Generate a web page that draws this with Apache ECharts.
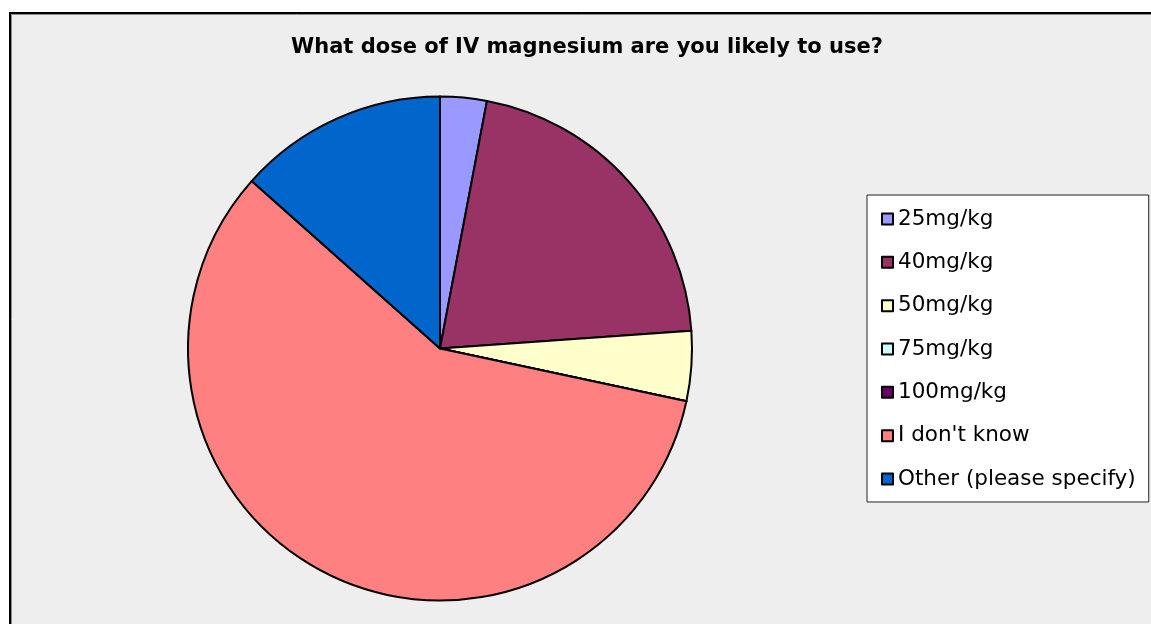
<!DOCTYPE html>
<html>
<head>
<meta charset="utf-8">
<script src="https://cdn.jsdelivr.net/npm/echarts@6/dist/echarts.min.js"></script>
<style>
html,body{margin:0;padding:0;background:#ffffff;}
#chart{width:1151px;height:624px;}
</style>
</head>
<body>
<div id="chart"></div>
<script>
var titleText = 'What dose of IV magnesium are you likely to use?';
var categories = ['25mg/kg', '40mg/kg', '50mg/kg', '75mg/kg', '100mg/kg', "I don't know", 'Other (please specify)'];
var counts = [2, 14, 3, 0, 0, 39, 9];
var colors = ['#9999FF', '#993366', '#FFFFCC', '#CCFFFF', '#660066', '#FF8080', '#0066CC'];

var chart = echarts.init(document.getElementById('chart'), null, {renderer: 'canvas'});
var data = categories.map(function (c, i) {
  return {name: c, value: counts[i], itemStyle: {color: colors[i]}};
});
chart.setOption({
  animation: false,
  backgroundColor: '#ffffff',
  graphic: [
    {type: 'rect', z: -10, shape: {x: 10, y: 13, width: 2000, height: 2000},
     style: {fill: '#eeeeee', stroke: '#000000', lineWidth: 2}},
    {type: 'rect', z: -9, shape: {x: 11.5, y: 14.5, width: 2000, height: 2000},
     style: {fill: null, stroke: '#8a8a8a', lineWidth: 1}},
    {type: 'text', x: 587, y: 48, z: 10,
     style: {text: titleText, fill: '#000000', font: 'bold 21px "DejaVu Sans"',
             textAlign: 'center', textVerticalAlign: 'middle'}}
  ],
  legend: {
    orient: 'vertical',
    left: 867,
    top: 195,
    padding: [13, 13, 12, 14],
    backgroundColor: '#ffffff',
    borderColor: '#222222',
    borderWidth: 1,
    itemWidth: 11,
    itemHeight: 11,
    itemGap: 21.33,
    icon: 'rect',
    selectedMode: false,
    itemStyle: {borderColor: '#000000', borderWidth: 2},
    textStyle: {fontFamily: 'DejaVu Sans', fontSize: 21.5, color: '#000000', lineHeight: 22},
    data: categories
  },
  series: [{
    type: 'pie',
    center: [440, 348.5],
    radius: [0, 252],
    startAngle: 90,
    clockwise: true,
    avoidLabelOverlap: false,
    label: {show: false},
    labelLine: {show: false},
    emphasis: {disabled: true},
    itemStyle: {borderColor: '#000000', borderWidth: 2},
    data: data
  }]
});
</script>
</body>
</html>
